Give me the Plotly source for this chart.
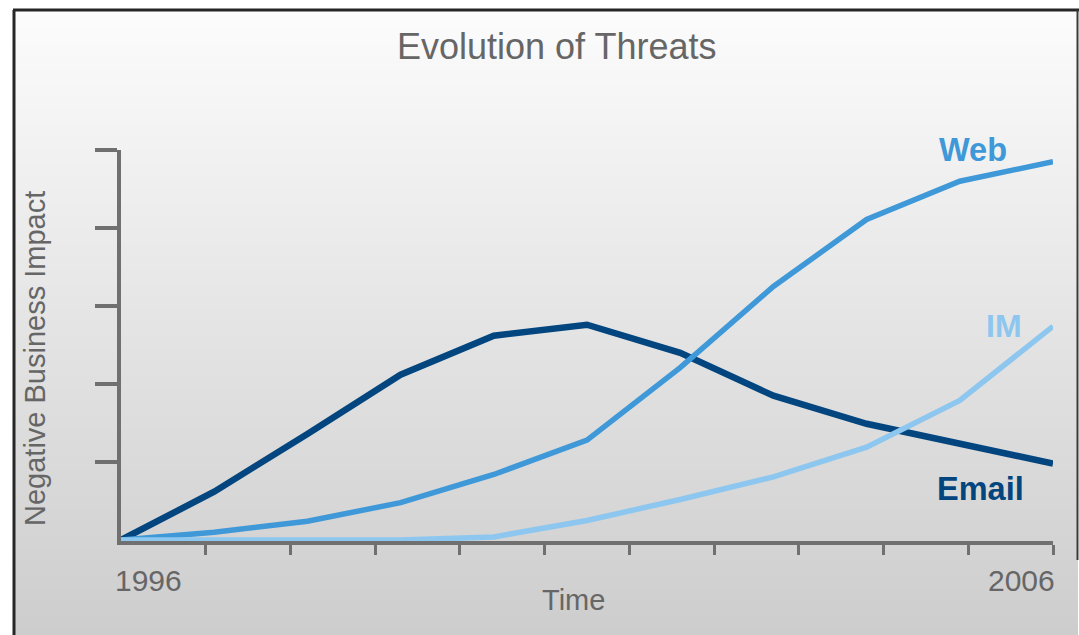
import numpy as np
import plotly.graph_objects as go

# ---- data -------------------------------------------------------------
years = list(range(1996, 2007))
email = [0, 0.62, 1.36, 2.12, 2.62, 2.76, 2.40, 1.85, 1.49, 1.23, 0.98]
web = [0, 0.10, 0.24, 0.48, 0.84, 1.28, 2.21, 3.25, 4.11, 4.60, 4.85]
im = [0, 0, 0, 0, 0.04, 0.25, 0.52, 0.81, 1.19, 1.79, 2.74]
series_names = ["Email", "Web", "IM"]
x_tick_labels = ["1996", "2006"]
y_levels = [1, 2, 3, 4, 5]
n_x_ticks = 11

# ---- page geometry helpers (pixels -> paper fractions) ------------------
W, H = 1079, 635


def fx(px):
    return px / W


def fy(py):
    return 1 - py / H


GREY = "#666666"
AXIS = "#707070"
FONT = "Liberation Sans, Arial, sans-serif"
colors = {"Email": "#03457e", "Web": "#3f98d8", "IM": "#8dc7ef"}
widths = {"Email": 6.5, "Web": 5.5, "IM": 5.5}
values = {"Email": email, "Web": web, "IM": im}

fig = go.Figure()
for name in series_names:
    fig.add_trace(go.Scatter(
        x=years, y=values[name], mode="lines", name=name,
        line=dict(color=colors[name], width=widths[name]),
        hoverinfo="skip", showlegend=False,
    ))

# vertical grey gradient behind the chart, inside the black frame
shapes = []
top, bottom = 10, H
steps = 125
for i in range(steps):
    y0 = top + (bottom - top) * i / steps
    y1 = top + (bottom - top) * (i + 1) / steps
    t = (i + 0.5) / steps
    g = int(round(252 - 47 * t))
    shapes.append(dict(
        type="rect", xref="paper", yref="paper", layer="below",
        x0=fx(14), x1=fx(1078), y0=fy(y1), y1=fy(y0),
        fillcolor=f"rgb({g},{g},{g})", line=dict(width=0),
    ))

# frame
shapes.append(dict(type="line", xref="paper", yref="paper",
                   x0=fx(13), x1=fx(1079), y0=fy(10), y1=fy(10),
                   line=dict(color="#262626", width=3)))
shapes.append(dict(type="line", xref="paper", yref="paper",
                   x0=fx(14), x1=fx(14), y0=fy(10), y1=fy(H),
                   line=dict(color="#262626", width=3)))
shapes.append(dict(type="line", xref="paper", yref="paper",
                   x0=fx(1077.5), x1=fx(1077.5), y0=fy(10), y1=fy(560),
                   line=dict(color="#3a3a3a", width=2)))

x_ticks = list(np.linspace(years[0], years[-1], n_x_ticks + 1)[1:])

annotations = [
    dict(text="Evolution of Threats", x=fx(557), y=fy(46), xref="paper", yref="paper",
         showarrow=False, xanchor="center", yanchor="middle",
         font=dict(family=FONT, size=36, color=GREY)),
    dict(text="Time", x=fx(573), y=fy(600), xref="paper", yref="paper",
         showarrow=False, xanchor="center", yanchor="middle",
         font=dict(family=FONT, size=29, color=GREY)),
    dict(text="Negative Business Impact", x=fx(35), y=fy(359), xref="paper", yref="paper",
         showarrow=False, xanchor="center", yanchor="middle", textangle=-90,
         font=dict(family=FONT, size=29, color=GREY)),
    dict(text=x_tick_labels[0], x=fx(113), y=fy(580), xref="paper", yref="paper",
         showarrow=False, xanchor="left", yanchor="middle",
         font=dict(family=FONT, size=30, color=GREY)),
    dict(text=x_tick_labels[1], x=fx(1057), y=fy(580), xref="paper", yref="paper",
         showarrow=False, xanchor="right", yanchor="middle",
         font=dict(family=FONT, size=30, color=GREY)),
    dict(text="<b>Web</b>", x=fx(973), y=fy(150), xref="paper", yref="paper",
         showarrow=False, xanchor="center", yanchor="middle",
         font=dict(family=FONT, size=32.5, color=colors["Web"])),
    dict(text="<b>IM</b>", x=fx(1004), y=fy(326), xref="paper", yref="paper",
         showarrow=False, xanchor="center", yanchor="middle",
         font=dict(family=FONT, size=32, color=colors["IM"])),
    dict(text="<b>Email</b>", x=fx(980), y=fy(489), xref="paper", yref="paper",
         showarrow=False, xanchor="center", yanchor="middle",
         font=dict(family=FONT, size=32.5, color=colors["Email"])),
]

fig.update_layout(
    width=W, height=H,
    margin=dict(l=0, r=0, t=0, b=0),
    paper_bgcolor="white",
    plot_bgcolor="rgba(0,0,0,0)",
    shapes=shapes,
    annotations=annotations,
    xaxis=dict(
        domain=[fx(121), fx(1053)], range=[years[0], years[-1]],
        showgrid=False, zeroline=False, showline=True,
        linecolor=AXIS, linewidth=4,
        tickmode="array", tickvals=x_ticks, ticks="outside",
        ticklen=10, tickwidth=3, tickcolor=AXIS, showticklabels=False,
        fixedrange=True,
    ),
    yaxis=dict(
        domain=[fy(541.2), fy(150)], range=[-0.015, 5],
        showgrid=False, zeroline=False, showline=True,
        linecolor=AXIS, linewidth=4,
        tickmode="array", tickvals=y_levels, ticks="outside",
        ticklen=22, tickwidth=4, tickcolor=AXIS, showticklabels=False,
        fixedrange=True,
    ),
)

fig.write_html("out.html")
